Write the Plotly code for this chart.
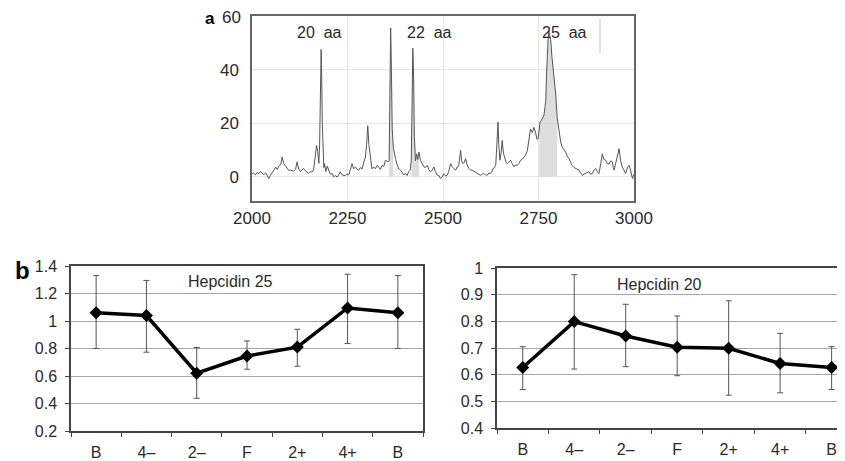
import plotly.graph_objects as go

# ---- panel a: mass spectrum (m/z vs intensity) ----
mz = [
    2000, 2004, 2009, 2013, 2018, 2022, 2026, 2031, 2036, 2040, 2044, 2048, 2053, 2057, 2062, 2066,
    2070, 2075, 2079, 2083, 2087, 2092, 2096, 2100, 2105, 2109, 2114, 2118, 2122, 2127, 2131, 2135,
    2140, 2144, 2148, 2153, 2157, 2161, 2166, 2169, 2172, 2175, 2177, 2179, 2181, 2182, 2184, 2186,
    2188, 2190, 2193, 2197, 2201, 2205, 2210, 2214, 2218, 2223, 2227, 2231, 2235, 2240, 2244, 2249,
    2253, 2257, 2262, 2266, 2271, 2275, 2279, 2284, 2288, 2293, 2297, 2300, 2303, 2306, 2310, 2314,
    2319, 2323, 2328, 2332, 2336, 2341, 2345, 2349, 2353, 2356, 2359, 2361, 2363, 2365, 2367, 2370,
    2373, 2376, 2380, 2384, 2389, 2393, 2397, 2402, 2406, 2410, 2414, 2417, 2419, 2421, 2423, 2425,
    2428, 2431, 2434, 2437, 2441, 2445, 2450, 2454, 2459, 2463, 2467, 2472, 2476, 2480, 2485, 2489,
    2493, 2498, 2502, 2506, 2511, 2515, 2520, 2524, 2528, 2533, 2537, 2541, 2546, 2549, 2552, 2556,
    2559, 2563, 2568, 2572, 2576, 2581, 2585, 2590, 2594, 2598, 2603, 2607, 2611, 2616, 2620, 2624,
    2628, 2631, 2635, 2638, 2641, 2644, 2646, 2649, 2652, 2655, 2658, 2661, 2665, 2668, 2672, 2677,
    2681, 2686, 2690, 2694, 2699, 2703, 2707, 2712, 2716, 2721, 2725, 2729, 2734, 2738, 2742, 2746,
    2749, 2752, 2754, 2757, 2760, 2764, 2767, 2769, 2771, 2773, 2775, 2777, 2780, 2782, 2785, 2789,
    2792, 2795, 2799, 2804, 2808, 2812, 2817, 2821, 2826, 2830, 2834, 2838, 2843, 2847, 2852, 2856,
    2860, 2865, 2869, 2873, 2878, 2882, 2886, 2891, 2895, 2900, 2904, 2908, 2913, 2917, 2921, 2926,
    2930, 2935, 2939, 2943, 2946, 2948, 2952, 2957, 2961, 2965, 2969, 2974, 2978, 2983, 2987, 2991,
    2996, 3000,
]
intensity = [
    1.0, 1.5, 0.8, 1.6, 1.2, 2.0, 1.4, 0.9, 1.5, 0.4, -0.6, 0.5, 1.8, 2.4, 3.6, 2.8,
    4.0, 4.5, 7.4, 5.0, 4.3, 3.2, 2.4, 2.6, 2.4, 2.1, 2.8, 5.6, 3.0, 2.0, 2.6, 3.1,
    2.2, 1.9, 1.3, 2.0, 1.8, 2.4, 9.9, 11.7, 9.5, 5.0, 12.0, 30.0, 47.5, 42.0, 20.0, 6.0,
    3.5, 4.9, 2.0, 4.0, 2.5, 1.0, 1.2, 0.0, 0.5, -0.1, 0.8, 1.9, 0.8, 0.6, 0.4, 1.2,
    0.6, 2.5, 4.9, 3.0, 3.7, 2.8, 2.5, 3.5, 2.9, 5.6, 7.4, 12.0, 19.1, 12.0, 7.4, 3.0,
    3.7, 3.0, 4.3, 3.5, 2.8, 4.3, 3.8, 6.2, 5.8, 5.6, 6.0, 30.0, 55.5, 40.0, 18.0, 11.0,
    8.0, 6.5, 4.5, 3.0, 2.5, 1.5, 0.8, 1.2, 0.5, 1.9, 2.5, 6.0, 25.0, 48.0, 38.0, 15.0,
    6.0, 8.6, 6.5, 9.3, 6.2, 5.0, 3.7, 3.5, 4.3, 2.6, 1.9, 2.5, 3.7, 2.0, 0.6, 0.5,
    -0.6, 0.0, 1.2, 0.4, 0.6, 2.0, 4.9, 3.8, 3.1, 2.5, 3.7, 4.0, 9.9, 6.0, 4.9, 5.5,
    6.8, 4.5, 3.1, 2.5, 2.5, 2.0, 1.9, 1.2, 1.0, 0.6, 1.0, 1.2, 0.8, 0.6, 1.5, 1.2,
    2.0, 3.1, 3.5, 4.3, 12.0, 20.4, 12.0, 6.2, 9.0, 13.6, 9.0, 7.4, 5.5, 4.9, 5.5, 6.2,
    5.0, 3.7, 4.5, 4.3, 5.0, 6.2, 6.5, 7.4, 8.0, 9.9, 14.0, 17.9, 16.5, 18.5, 16.7, 14.0,
    14.2, 19.0, 20.4, 21.0, 21.6, 22.8, 26.0, 28.4, 38.0, 46.9, 51.0, 54.3, 52.0, 51.2, 45.0, 40.1,
    35.0, 30.9, 22.0, 16.0, 13.0, 11.1, 10.0, 9.3, 7.5, 6.8, 5.5, 4.3, 3.5, 3.1, 2.8, 2.5,
    1.5, 0.6, 1.0, 1.2, 1.5, 1.9, 1.0, 1.2, 2.5, 3.1, 2.0, 1.2, 5.0, 8.6, 6.5, 6.2,
    5.0, 4.9, 6.0, 5.6, 3.5, 2.5, 5.0, 8.0, 10.5, 6.0, 3.7, 2.5, 1.2, 3.5, 4.3, 2.5,
    -0.6, 1.0,
]
# integrated peak windows (m/z from, m/z to)
shade_windows = [(2358, 2372), (2417, 2440), (2750, 2800)]
peak_labels = ["20\u00a0\u00a0aa", "22\u00a0\u00a0aa", "25\u00a0\u00a0aa"]
peak_label_mz = [2176, 2465, 2819]
stray_x = [2911, 2911]
stray_y = [46, 59]
intensity_ticks = [0, 20, 40, 60]

# ---- panel b: hepcidin time course ----
phases = ["B", "4\u2013", "2\u2013", "F", "2+", "4+", "B"]
hep25 = [1.06, 1.04, 0.62, 0.745, 0.81, 1.095, 1.06]
hep25_hi = [0.27, 0.255, 0.187, 0.11, 0.13, 0.245, 0.27]
hep25_lo = [0.26, 0.267, 0.182, 0.096, 0.139, 0.259, 0.26]
hep20 = [0.627, 0.799, 0.745, 0.703, 0.699, 0.642, 0.627]
hep20_hi = [0.078, 0.176, 0.119, 0.117, 0.178, 0.113, 0.078]
hep20_lo = [0.083, 0.178, 0.115, 0.107, 0.176, 0.11, 0.083]

# the page body keeps its default 8px margin, so the figure is 8px smaller
OFF = 8
W, H = 845 - OFF, 461 - OFF
FONT = "Liberation Sans, Arial, Helvetica, sans-serif"
TXT = "#2b2b2b"
pos = list(range(len(phases)))


def px_x(p):
    return (p - OFF) / W


def px_y(p):
    return 1 - (p - OFF) / H


fig = go.Figure()

# shaded peak areas
for lo_mz, hi_mz in shade_windows:
    xs = [m for m in mz if lo_mz <= m <= hi_mz]
    ys = [v for m, v in zip(mz, intensity) if lo_mz <= m <= hi_mz]
    fig.add_trace(go.Scatter(
        x=xs, y=ys, mode="lines", fill="tozeroy",
        fillcolor="rgba(210,210,210,0.75)", line=dict(width=0),
        xaxis="x", yaxis="y", hoverinfo="skip", showlegend=False,
    ))

fig.add_trace(go.Scatter(
    x=mz, y=intensity, mode="lines", line=dict(color="#555", width=1),
    xaxis="x", yaxis="y", showlegend=False,
))
fig.add_trace(go.Scatter(
    x=stray_x, y=stray_y, mode="lines", line=dict(color="#c0c0c0", width=1),
    xaxis="x", yaxis="y", hoverinfo="skip", showlegend=False,
))

# hepcidin 25
fig.add_trace(go.Scatter(
    x=pos, y=hep25, mode="lines+markers",
    line=dict(color="black", width=3.5),
    marker=dict(symbol="diamond", size=10, color="black"),
    error_y=dict(type="data", array=hep25_hi, arrayminus=hep25_lo,
                 color="#555", thickness=1, width=3),
    xaxis="x2", yaxis="y2", showlegend=False,
))
# hepcidin 20
fig.add_trace(go.Scatter(
    x=pos, y=hep20, mode="lines+markers",
    line=dict(color="black", width=3.5),
    marker=dict(symbol="diamond", size=10, color="black"),
    error_y=dict(type="data", array=hep20_hi, arrayminus=hep20_lo,
                 color="#555", thickness=1, width=3),
    xaxis="x3", yaxis="y3", showlegend=False,
))

tick_font = dict(family=FONT, size=16, color=TXT)

fig.update_layout(
    width=W, height=H,
    margin=dict(l=0, r=0, t=0, b=0),
    paper_bgcolor="white", plot_bgcolor="white",
    font=dict(family=FONT, color=TXT),
    xaxis=dict(
        domain=[px_x(252), px_x(634)], range=[2000, 3000],
        tickvals=[2000, 2250, 2500, 2750, 3000],
        showgrid=True, gridcolor="#e6e6e6", zeroline=False,
        showline=True, mirror=True, linecolor="#666", linewidth=1.5,
        ticks="", tickfont=dict(family=FONT, size=17, color=TXT),
        ticklabelstandoff=1, anchor="y", automargin=False,
    ),
    yaxis=dict(
        domain=[px_y(201), px_y(16)], range=[-9, 60],
        tickvals=intensity_ticks[:-1],
        showgrid=True, gridcolor="#e6e6e6", zeroline=False,
        showline=True, mirror=True, linecolor="#666", linewidth=1.5,
        ticks="", tickfont=dict(family=FONT, size=17, color=TXT),
        ticklabelstandoff=8, anchor="x", automargin=False,
    ),
    xaxis2=dict(
        domain=[px_x(71), px_x(423)], range=[-0.5, 6.5],
        tickvals=pos, ticktext=phases, ticks="",
        minor=dict(tick0=0.5, dtick=1, ticks="outside", ticklen=4,
                   tickcolor="#444", showgrid=False),
        showgrid=False, zeroline=False,
        showline=True, mirror=True, linecolor="#444", linewidth=1.5,
        tickfont=tick_font, ticklabelstandoff=6, anchor="y2", automargin=False,
    ),
    yaxis2=dict(
        domain=[px_y(431), px_y(266)], range=[0.2, 1.4],
        tickvals=[0.2, 0.4, 0.6, 0.8, 1.0, 1.2, 1.4],
        ticktext=["0.2", "0.4", "0.6", "0.8", "1", "1.2", "1.4"],
        showgrid=True, gridcolor="#a6a6a6", gridwidth=1, zeroline=False,
        showline=True, mirror=True, linecolor="#444", linewidth=1.5,
        ticks="outside", ticklen=4, tickcolor="#444",
        tickfont=tick_font, ticklabelstandoff=5, anchor="x2", automargin=False,
    ),
    xaxis3=dict(
        domain=[px_x(497), 1.0], range=[-0.5, 6.26],
        tickvals=pos, ticktext=phases, ticks="",
        minor=dict(tick0=0.5, dtick=1, ticks="outside", ticklen=4,
                   tickcolor="#444", showgrid=False),
        showgrid=False, zeroline=False,
        showline=True, mirror=True, linecolor="#444", linewidth=1.5,
        tickfont=tick_font, ticklabelstandoff=6, anchor="y3", automargin=False,
    ),
    yaxis3=dict(
        domain=[px_y(428), px_y(268)], range=[0.4, 1.0],
        tickvals=[0.4, 0.5, 0.6, 0.7, 0.8, 0.9, 1.0],
        ticktext=["0.4", "0.5", "0.6", "0.7", "0.8", "0.9", "1"],
        showgrid=True, gridcolor="#a6a6a6", gridwidth=1, zeroline=False,
        showline=True, mirror=False, linecolor="#444", linewidth=1.5,
        ticks="outside", ticklen=4, tickcolor="#444",
        tickfont=tick_font, ticklabelstandoff=5, anchor="x3", automargin=False,
    ),
)

# top intensity label sits at the paper edge, so place it as an annotation
fig.add_annotation(x=px_x(243), y=intensity_ticks[-1], xref="paper", yref="y",
                   text=str(intensity_ticks[-1]), showarrow=False,
                   xanchor="right", yanchor="middle", yshift=-2,
                   font=dict(family=FONT, size=17, color=TXT))

# peak labels
for label, x in zip(peak_labels, peak_label_mz):
    fig.add_annotation(x=x, y=54, xref="x", yref="y", text=label, showarrow=False,
                       xanchor="center", yanchor="middle",
                       font=dict(family=FONT, size=16, color=TXT))

fig.add_annotation(x=2.68, y=1.29, xref="x2", yref="y2", text="Hepcidin 25",
                   showarrow=False, xanchor="center", yanchor="middle",
                   font=dict(family=FONT, size=16, color=TXT))
fig.add_annotation(x=2.66, y=0.94, xref="x3", yref="y3", text="Hepcidin 20",
                   showarrow=False, xanchor="center", yanchor="middle",
                   font=dict(family=FONT, size=16, color=TXT))

# panel letters
fig.add_annotation(x=px_x(210), y=px_y(18), xref="paper", yref="paper", text="<b>a</b>",
                   showarrow=False, xanchor="center", yanchor="middle",
                   font=dict(family=FONT, size=17, color="black"))
fig.add_annotation(x=px_x(22), y=px_y(270), xref="paper", yref="paper", text="<b>b</b>",
                   showarrow=False, xanchor="center", yanchor="middle",
                   font=dict(family=FONT, size=24, color="black"))

fig.write_html("out.html")
